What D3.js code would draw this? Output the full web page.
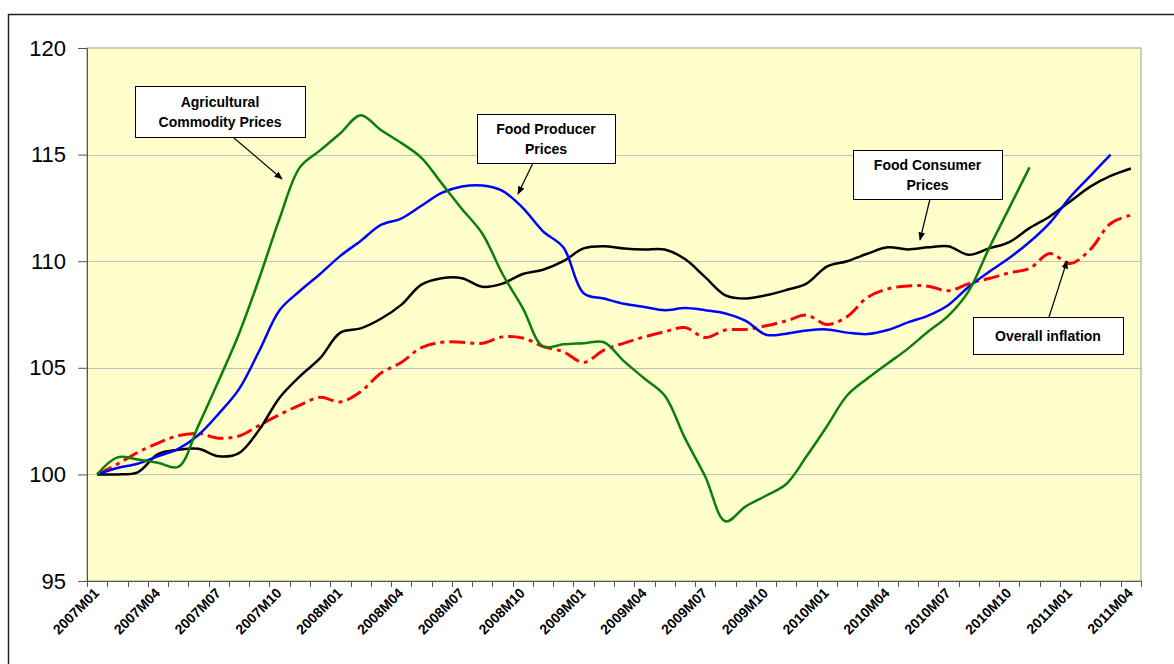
<!DOCTYPE html>
<html>
<head>
<meta charset="utf-8">
<script src="https://cdn.jsdelivr.net/npm/d3@7"></script>
<style>
    body { margin: 0; background: #ffffff; }
    svg { display: block; font-family: Arial, "Liberation Sans", sans-serif; }
</style>
</head>
<body>
<div id="chart"></div>
<script>
// months 2007M01 .. 2011M04
const months = [
    "2007M01", "2007M02", "2007M03", "2007M04", "2007M05", "2007M06", "2007M07", "2007M08", "2007M09", "2007M10", "2007M11", "2007M12",
    "2008M01", "2008M02", "2008M03", "2008M04", "2008M05", "2008M06", "2008M07", "2008M08", "2008M09", "2008M10", "2008M11", "2008M12",
    "2009M01", "2009M02", "2009M03", "2009M04", "2009M05", "2009M06", "2009M07", "2009M08", "2009M09", "2009M10", "2009M11", "2009M12",
    "2010M01", "2010M02", "2010M03", "2010M04", "2010M05", "2010M06", "2010M07", "2010M08", "2010M09", "2010M10", "2010M11", "2010M12",
    "2011M01", "2011M02", "2011M03", "2011M04"
];

const tickLabels = [
    "2007M01", "2007M04", "2007M07", "2007M10", "2008M01", "2008M04", "2008M07", "2008M10",
    "2009M01", "2009M04", "2009M07", "2009M10", "2010M01", "2010M04", "2010M07", "2010M10",
    "2011M01", "2011M04"
];

const yTicks = [95, 100, 105, 110, 115, 120];

// Agricultural commodity prices (to 2010M11)
const agricultural = [
    100, 100.8, 100.7, 100.55, 100.35, 102.3, 104.4, 106.6, 109.2, 112.0, 114.4, 115.2,
    116.0, 116.85, 116.15, 115.55, 114.85, 113.65, 112.45, 111.3, 109.4, 107.8, 106.0, 106.1,
    106.15, 106.2, 105.3, 104.5, 103.7, 101.7, 99.9, 97.8, 98.5, 99.0, 99.55, 100.85,
    102.25, 103.7, 104.5, 105.2, 105.9, 106.7, 107.45, 108.6, 110.6, 112.5, 114.4
];

// Food producer prices (to 2011M03)
const producer = [
    100, 100.3, 100.5, 100.85, 101.2, 101.85, 102.85, 104.0, 105.8, 107.7, 108.6, 109.4,
    110.25, 110.95, 111.7, 112.0, 112.6, 113.2, 113.5, 113.55, 113.3, 112.5, 111.4, 110.65,
    108.5, 108.25, 108.0, 107.85, 107.7, 107.8, 107.7, 107.55, 107.2, 106.55, 106.6, 106.75,
    106.8, 106.65, 106.58, 106.77, 107.13, 107.45, 107.95, 108.8, 109.5, 110.15, 110.9, 111.8,
    113.0, 114.0, 115.0
];

// Food consumer prices
const consumer = [
    100, 100, 100.1, 100.95, 101.15, 101.2, 100.85, 101.0, 102.1, 103.6, 104.6, 105.45,
    106.65, 106.85, 107.3, 107.95, 108.9, 109.2, 109.2, 108.8, 108.95, 109.4, 109.6, 110.0,
    110.6, 110.7, 110.6, 110.55, 110.55, 110.1, 109.25, 108.4, 108.25, 108.4, 108.65, 108.95,
    109.75, 110.0, 110.35, 110.65, 110.55, 110.65, 110.7, 110.3, 110.6, 110.9, 111.55, 112.1,
    112.8, 113.5, 114.0, 114.35
];

// Overall inflation
const inflation = [
    100, 100.48, 101.03, 101.47, 101.82, 101.92, 101.7, 101.8, 102.3, 102.8, 103.25, 103.62,
    103.4, 103.88, 104.75, 105.25, 105.95, 106.2, 106.2, 106.15, 106.45, 106.4, 106.0, 105.75,
    105.25, 105.83, 106.16, 106.45, 106.69, 106.89, 106.42, 106.77, 106.8, 106.97, 107.2, 107.47,
    107.03, 107.4, 108.3, 108.7, 108.84, 108.83, 108.61, 108.95, 109.19, 109.45, 109.66, 110.36,
    109.89, 110.55, 111.77, 112.16
];

drawChart();

function drawChart() {
    const W = 1174, H = 664;
    const plot = { left: 87, right: 1141, top: 48, bottom: 581 };

    const svg = d3.select("#chart").append("svg")
        .attr("width", W)
        .attr("height", H);

    // outer chart frame
    svg.append("rect")
        .attr("x", 8.5).attr("y", 14.5)
        .attr("width", 1200).attr("height", 700)
        .attr("fill", "#fff")
        .attr("stroke", "#222")
        .attr("stroke-width", 1.5);

    const x = d3.scaleBand()
        .domain(months)
        .range([plot.left, plot.right])
        .padding(0);

    const y = d3.scaleLinear()
        .domain([95, 120])
        .range([plot.bottom, plot.top]);

    // plot area
    svg.append("rect")
        .attr("x", plot.left).attr("y", plot.top)
        .attr("width", plot.right - plot.left)
        .attr("height", plot.bottom - plot.top)
        .attr("fill", "#FFFFCC")
        .attr("stroke", "#9a9a9a")
        .attr("stroke-width", 1);

    // grid lines
    svg.append("g")
        .selectAll("line")
        .data(yTicks.filter(d => d > 95 && d < 120))
        .enter().append("line")
        .attr("x1", plot.left).attr("x2", plot.right)
        .attr("y1", d => Math.round(y(d)) + 0.5)
        .attr("y2", d => Math.round(y(d)) + 0.5)
        .attr("stroke", "#c0c0c0")
        .attr("stroke-width", 1);

    // Y axis
    const yAxis = svg.append("g")
        .attr("transform", `translate(${plot.left},0)`)
        .call(d3.axisLeft(y).tickValues(yTicks).tickSize(9).tickPadding(12).tickFormat(d3.format("d")));
    yAxis.select(".domain").attr("stroke", "#555");
    yAxis.selectAll(".tick line").attr("stroke", "#555");
    yAxis.selectAll("text")
        .attr("font-size", 22)
        .attr("fill", "#000")
        .attr("font-family", "Arial, 'Liberation Sans', sans-serif");

    // X axis line + ticks at category boundaries
    const xg = svg.append("g");
    xg.append("line")
        .attr("x1", plot.left).attr("x2", plot.right)
        .attr("y1", plot.bottom + 0.5).attr("y2", plot.bottom + 0.5)
        .attr("stroke", "#555");
    const bounds = months.map(m => x(m)).concat([x(months[months.length - 1]) + x.bandwidth()]);
    xg.selectAll(".xtick")
        .data(bounds)
        .enter().append("line")
        .attr("class", "xtick")
        .attr("x1", d => Math.round(d) + 0.5).attr("x2", d => Math.round(d) + 0.5)
        .attr("y1", plot.bottom).attr("y2", plot.bottom + 6)
        .attr("stroke", "#555");

    xg.selectAll(".xlabel")
        .data(tickLabels)
        .enter().append("text")
        .attr("class", "xlabel")
        .attr("transform", d => `translate(${x(d) + x.bandwidth() / 2 + 3},${plot.bottom + 13}) rotate(-45)`)
        .attr("text-anchor", "end")
        .attr("font-size", 14)
        .attr("font-weight", "bold")
        .attr("fill", "#000")
        .text(d => d);

    // series
    const line = d3.line()
        .x((d, i) => x(months[i]) + x.bandwidth() / 2)
        .y(d => y(d))
        .curve(d3.curveCatmullRom.alpha(0.5));

    const series = [
        { name: "Overall inflation", values: inflation, color: "#FF0000", width: 3, dash: "16,5,4,5" },
        { name: "Food Consumer Prices", values: consumer, color: "#000000", width: 2.5, dash: null },
        { name: "Food Producer Prices", values: producer, color: "#0000FF", width: 2.5, dash: null },
        { name: "Agricultural Commodity Prices", values: agricultural, color: "#0A7F0A", width: 2.5, dash: null }
    ];

    svg.append("g")
        .selectAll("path")
        .data(series)
        .enter().append("path")
        .attr("d", d => line(d.values))
        .attr("fill", "none")
        .attr("stroke", d => d.color)
        .attr("stroke-width", d => d.width)
        .attr("stroke-dasharray", d => d.dash)
        .attr("stroke-linejoin", "round");

    // arrow marker
    svg.append("defs").append("marker")
        .attr("id", "arrow")
        .attr("viewBox", "0 0 10 10")
        .attr("refX", 9).attr("refY", 5)
        .attr("markerWidth", 7).attr("markerHeight", 7)
        .attr("orient", "auto")
        .append("path")
        .attr("d", "M0,1 L10,5 L0,9 Z")
        .attr("fill", "#000");

    // annotation boxes (pixel layout)
    const notes = [
        { lines: ["Agricultural", "Commodity Prices"], box: [135, 86, 170, 51], from: [234, 138], to: [282, 179] },
        { lines: ["Food Producer", "Prices"], box: [477, 114, 138, 49], from: [533, 163], to: [518, 194] },
        { lines: ["Food Consumer", "Prices"], box: [853, 150, 149, 49], from: [930, 199], to: [920, 240] },
        { lines: ["Overall inflation"], box: [973, 317, 150, 37], from: [1049, 317], to: [1067, 261] }
    ];

    notes.forEach(n => {
        const [bx, by, bw, bh] = n.box;
        svg.append("line")
            .attr("x1", n.from[0]).attr("y1", n.from[1])
            .attr("x2", n.to[0]).attr("y2", n.to[1])
            .attr("stroke", "#000")
            .attr("stroke-width", 1.2)
            .attr("marker-end", "url(#arrow)");
        svg.append("rect")
            .attr("x", bx + 0.5).attr("y", by + 0.5)
            .attr("width", bw).attr("height", bh)
            .attr("fill", "#fff")
            .attr("stroke", "#000")
            .attr("stroke-width", 1);
        const lh = 20;
        const top = by + bh / 2 - (n.lines.length - 1) * lh / 2 + 5;
        n.lines.forEach((t, k) => {
            svg.append("text")
                .attr("x", bx + bw / 2)
                .attr("y", top + k * lh)
                .attr("text-anchor", "middle")
                .attr("font-size", 14)
                .attr("font-weight", "bold")
                .attr("fill", "#000")
                .text(t);
        });
    });
}
</script>
</body>
</html>
